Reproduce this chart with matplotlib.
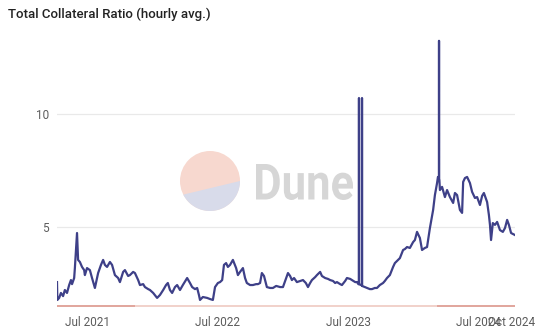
import numpy as np
import pandas as pd
import matplotlib
matplotlib.use('Agg')
import matplotlib.pyplot as plt
from matplotlib.patches import Circle, Polygon, PathPatch
from matplotlib.textpath import TextPath
from matplotlib.font_manager import FontProperties
from matplotlib.transforms import Affine2D

# hourly collateral ratio, sampled (days since start)
start = pd.Timestamp('2021-04-08')
days = [0, 1, 6, 11, 17, 22, 28, 34, 39, 42,
        48, 50, 53, 56, 59, 64, 70, 76, 78, 84,
        92, 98, 106, 115, 123, 129, 134, 140, 148, 154,
        162, 171, 176, 185, 190, 199, 204, 213, 218, 227,
        232, 241, 246, 255, 260, 269, 280, 288, 297, 305,
        310, 316, 322, 330, 336, 344, 352, 364, 372, 378,
        386, 392, 397, 400, 408, 420, 428, 436, 442, 450,
        456, 462, 467, 473, 478, 484, 492, 501, 506, 512,
        520, 526, 531, 540, 548, 557, 562, 568, 573, 579,
        587, 596, 604, 613, 624, 632, 641, 646, 652, 657,
        663, 671, 680, 688, 696, 702, 708, 713, 722, 727,
        736, 741, 750, 758, 764, 772, 778, 783, 792, 797,
        806, 811, 820, 825, 834, 839, 843, 844.4, 844.6, 844.8,
        850, 852.9, 853.1, 853.3, 861, 867, 875, 881, 889, 895,
        903, 912, 917, 923, 931, 940, 945, 954, 959, 968,
        973, 979, 987, 996, 1001, 1007, 1015, 1021, 1029, 1035,
        1043, 1052, 1057, 1063, 1065.5, 1068.3, 1068.5, 1068.7, 1069.5, 1071,
        1077, 1085, 1091, 1099, 1108, 1113, 1119, 1127, 1133, 1136,
        1141, 1147, 1155, 1161, 1169, 1175, 1183, 1189, 1194, 1203,
        1208, 1211, 1214, 1219, 1225, 1231, 1239, 1247, 1253, 1259,
        1264, 1270, 1275, 1281]
ratio = [2.55, 1.76, 1.85, 2.07, 1.93, 2.20, 2.07, 2.42, 2.64, 2.46,
         2.73, 3.17, 3.97, 4.72, 3.53, 3.44, 3.22, 3.08, 2.86, 3.17,
         3.08, 2.73, 2.29, 2.95, 3.31, 3.53, 3.31, 3.22, 3.44, 3.31,
         2.86, 2.73, 2.55, 3.00, 3.08, 2.82, 2.86, 3.00, 2.95, 2.64,
         2.42, 2.46, 2.33, 2.24, 2.20, 2.07, 1.85, 1.98, 2.20, 2.42,
         2.51, 2.20, 2.07, 2.33, 2.42, 2.20, 2.42, 2.73, 2.51, 2.33,
         2.24, 2.29, 1.98, 1.76, 1.89, 1.85, 1.80, 1.76, 2.33, 2.51,
         2.55, 2.64, 3.31, 3.39, 3.22, 3.31, 3.53, 3.17, 2.86, 3.00,
         3.17, 2.73, 2.51, 2.42, 2.42, 2.46, 2.46, 2.51, 2.95, 2.82,
         2.33, 2.29, 2.29, 2.38, 2.33, 2.33, 2.73, 2.95, 2.82, 2.64,
         2.73, 2.55, 2.60, 2.64, 2.51, 2.33, 2.51, 2.64, 2.77, 2.86,
         3.00, 2.82, 2.73, 2.69, 2.64, 2.60, 2.51, 2.55, 2.46, 2.42,
         2.60, 2.73, 2.69, 2.64, 2.55, 2.55, 2.46, 2.46, 10.69, 2.46,
         2.42, 2.40, 10.69, 2.38, 2.33, 2.29, 2.24, 2.24, 2.29, 2.29,
         2.42, 2.51, 2.60, 2.73, 2.86, 3.22, 3.39, 3.53, 3.61, 3.97,
         4.01, 4.10, 4.06, 4.32, 4.41, 4.77, 4.50, 3.97, 4.06, 4.10,
         4.94, 5.74, 6.40, 6.93, 7.20, 7.10, 13.22, 7.10, 7.07, 6.62,
         6.76, 6.31, 6.62, 6.31, 6.05, 6.49, 6.40, 5.74, 5.61, 6.98,
         7.15, 7.20, 6.93, 6.54, 6.27, 6.31, 5.96, 6.36, 6.49, 6.09,
         5.52, 5.08, 4.41, 5.16, 5.08, 5.21, 4.85, 4.77, 4.94, 5.30,
         5.08, 4.72, 4.68, 4.63]

# minimum ratio line and the stretches where it is drawn stronger
min_ratio = 1.5
strong_periods = [('2021-04-08', '2021-11-12'), ('2024-03-06', '2024-10-10')]

tick_dates = ['2021-07-01', '2022-07-01', '2023-07-01', '2024-07-01', '2024-10-01']
tick_labels = ['Jul 2021', 'Jul 2022', 'Jul 2023', 'Jul 2024', 'Oct 2024']
y_ticks = [5, 10]

dates = start + pd.to_timedelta(days, unit='D')

W, H = 539, 328
fig = plt.figure(figsize=(W / 100, H / 100), dpi=100)
fig.patch.set_facecolor('white')

# watermark layer in pixel coordinates
wm = fig.add_axes([0, 0, 1, 1], zorder=0)
wm.set_xlim(0, W)
wm.set_ylim(H, 0)
wm.axis('off')
cx, cy, r = 210, 181, 30
wm.add_patch(Circle((cx, cy), r, color='#f7d8cf', lw=0))
t = np.linspace(0, np.radians(153), 60)
wm.add_patch(Polygon(np.column_stack([cx + r * np.cos(t), cy + r * np.sin(t)]),
                     closed=True, color='#d8dbea', lw=0))
tp = TextPath((0, 0), 'Dune', prop=FontProperties(family='Roboto', weight='bold'), size=40)
bb = tp.get_extents()
tr = (Affine2D().translate(-bb.x0, -bb.y0)
      .scale(97 / bb.width, -36 / bb.height).translate(256, 200))
wm.add_patch(PathPatch(tr.transform_path(tp), color='#d6d6d6', lw=0))

fig.text(8 / W, 1 - 14 / H, 'Total Collateral Ratio (hourly avg.)', family='Roboto',
         weight='medium', fontsize=9.5, color='#222222', va='center', ha='left')

ax = fig.add_axes([57 / W, 19 / H, 458 / W, 270 / H], zorder=1)
ax.patch.set_alpha(0)
ax.axhline(min_ratio, color='#efc9c1', lw=1.2, zorder=2)
for a, b in strong_periods:
    ax.plot([pd.Timestamp(a), pd.Timestamp(b)], [min_ratio, min_ratio],
            color='#de9f95', lw=1.2, zorder=2, solid_capstyle='butt')
ax.plot(dates, ratio, color='#3e4088', lw=1.6, zorder=3)

ax.set_xlim(dates[0], dates[-1])
ax.set_ylim(1.36, 13.3)
ax.set_yticks(y_ticks)
ax.set_xticks(pd.to_datetime(tick_dates))
ax.set_xticklabels(tick_labels)
ax.grid(axis='y', color='#e9e9e9', lw=0.9)
ax.set_axisbelow(True)
for s in ax.spines.values():
    s.set_visible(False)
ax.tick_params(length=0, colors='#5c5c5c', labelsize=8.5)
ax.tick_params(axis='x', pad=5)
ax.tick_params(axis='y', pad=6)
for lab in ax.get_xticklabels() + ax.get_yticklabels():
    lab.set_family('Roboto')

fig.savefig('out.png', dpi=100)
